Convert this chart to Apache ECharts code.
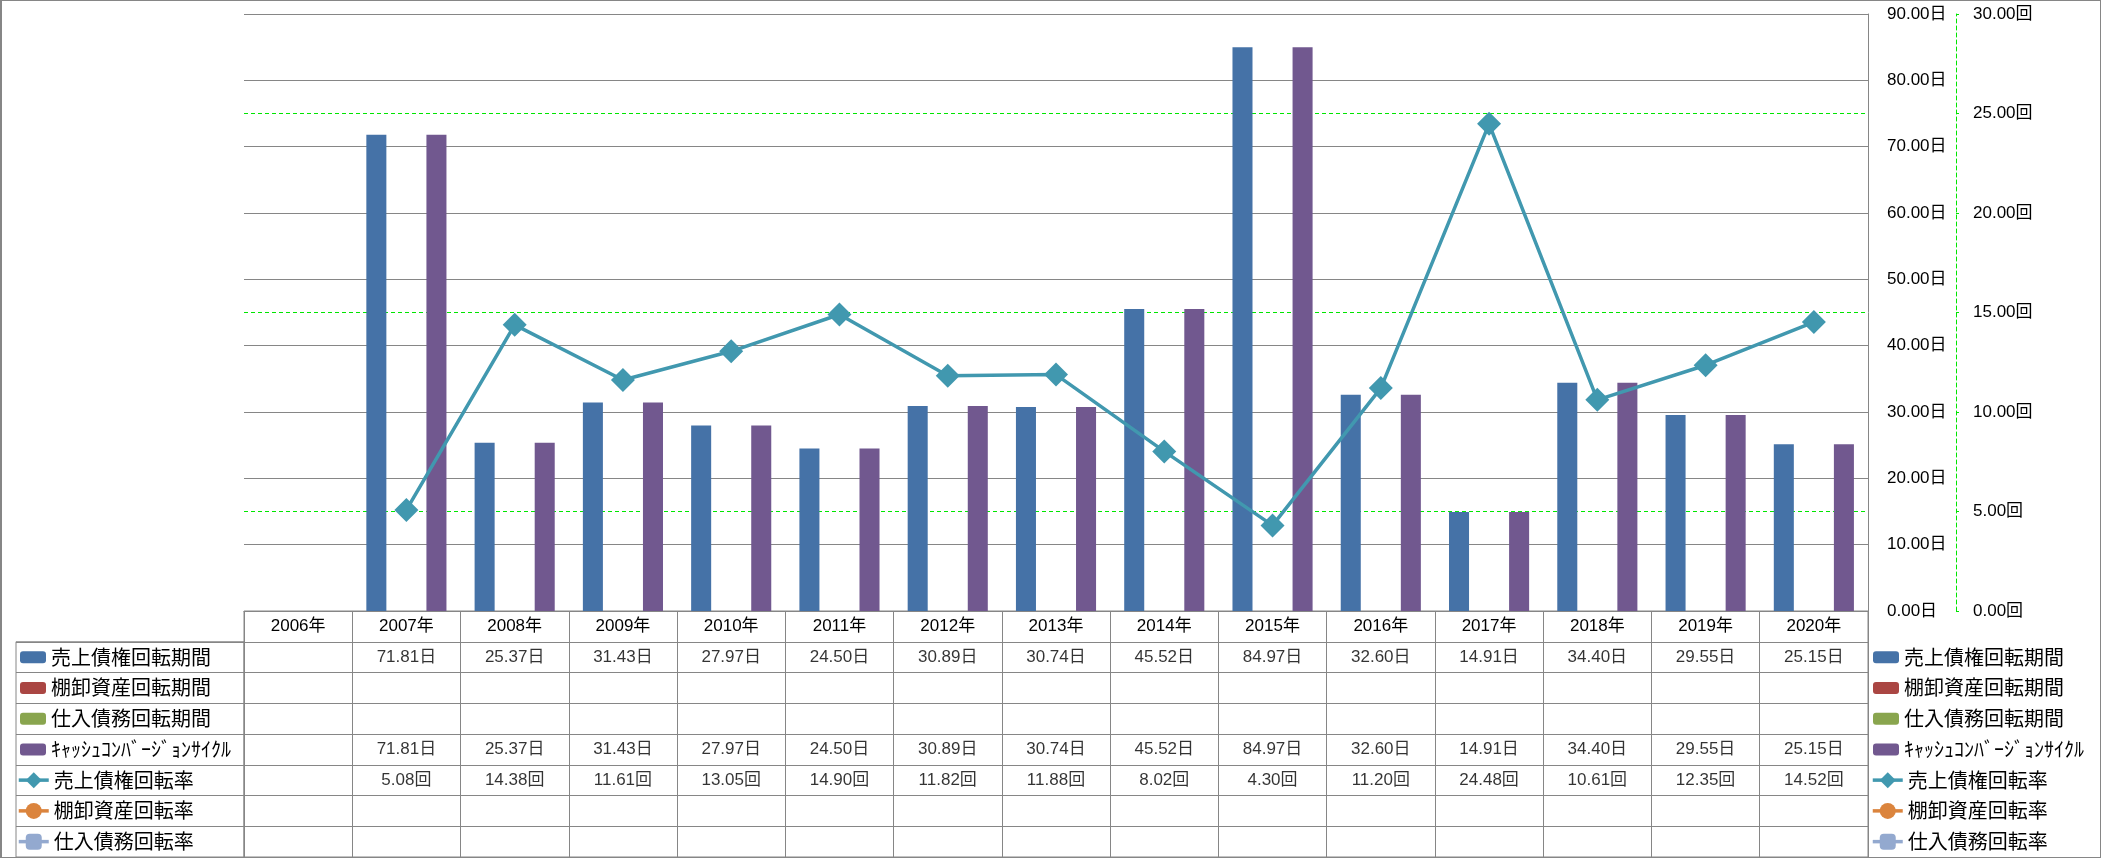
<!DOCTYPE html>
<html>
<head>
<meta charset="utf-8">
<title>売上債権回転期間・回転率</title>
<script src="https://cdn.jsdelivr.net/npm/echarts@6/dist/echarts.min.js"></script>
<style>
html, body { margin: 0; padding: 0; background: #fff; }
#chart { position: absolute; left: 0; top: 0; width: 2101px; height: 858px; }
#frame { position: absolute; left: 0; top: 0; width: 2101px; height: 858px; box-sizing: border-box; border: 1px solid #868686; border-left-width: 2px; pointer-events: none; }
</style>
</head>
<body>
<div id="chart"></div>
<div id="frame"></div>
<script>
// data
const years = ["2006年", "2007年", "2008年", "2009年", "2010年", "2011年", "2012年", "2013年",
  "2014年", "2015年", "2016年", "2017年", "2018年", "2019年", "2020年"];
const barNames = ["売上債権回転期間", "棚卸資産回転期間", "仕入債務回転期間", "ｷｬｯｼｭｺﾝﾊﾞｰｼﾞｮﾝｻｲｸﾙ"];
const lineNames = ["売上債権回転率", "棚卸資産回転率", "仕入債務回転率"];

const receivableDays = [null, 71.81, 25.37, 31.43, 27.97, 24.50, 30.89, 30.74, 45.52, 84.97, 32.60, 14.91, 34.40, 29.55, 25.15];
const inventoryDays = [];
const payableDays = [];
const cccDays = [null, 71.81, 25.37, 31.43, 27.97, 24.50, 30.89, 30.74, 45.52, 84.97, 32.60, 14.91, 34.40, 29.55, 25.15];
const receivableTurnover = [null, 5.08, 14.38, 11.61, 13.05, 14.90, 11.82, 11.88, 8.02, 4.30, 11.20, 24.48, 10.61, 12.35, 14.52];
const inventoryTurnover = [];
const payableTurnover = [];

const dayAxis = { min: 0, max: 90, interval: 10, unit: "日" };
const turnAxis = { min: 0, max: 30, interval: 5, unit: "回" };

// layout
const GRAY = "#868686";
const GREEN = "#00e600";
const NUM_FONT = "'Liberation Sans', 'Noto Sans CJK JP', sans-serif";
const JP_FONT = "'Noto Sans CJK JP', sans-serif";
const W = 2101, H = 858;
const plotLeft = 244, plotRight = 1868, plotTop = 14, axisY = 611, tableBottom = 857;
const rowH = (tableBottom - axisY) / 8;

// table cells
const tableRows = [
  { values: receivableDays, unit: "日" },
  { values: inventoryDays, unit: "日" },
  { values: payableDays, unit: "日" },
  { values: cccDays, unit: "日" },
  { values: receivableTurnover, unit: "回" },
  { values: inventoryTurnover, unit: "回" },
  { values: payableTurnover, unit: "回" }
];
const rowKeys = ["header"].concat(barNames, lineNames);
const cells = [];
tableRows.forEach(function(row, r) {
  row.values.forEach(function(v, c) {
    if (v != null) cells.push([c, r + 1, v, row.unit]);
  });
});

function legendBlock(names, left, firstRow, iconW, iconH) {
  return {
    orient: "vertical",
    left: left,
    top: axisY + rowH * firstRow + rowH / 2 - 10,
    padding: 0,
    itemGap: rowH - 20,
    itemWidth: iconW,
    itemHeight: iconH,
    selectedMode: false,
    data: names,
    lineStyle: { width: 3.5 },
    textStyle: { fontFamily: JP_FONT, fontSize: 20, lineHeight: 20, color: "#000" }
  };
}

const numLabel = { fontFamily: NUM_FONT, fontSize: 17, color: "#000" };

function barSeries(name, data, color) {
  return {
    name: name, type: "bar", xAxisIndex: 0, yAxisIndex: 0,
    data: data, barGap: "0%", barCategoryGap: "26%",
    itemStyle: { color: color }
  };
}
function lineSeries(name, data, color, symbol, size) {
  return {
    name: name, type: "line", xAxisIndex: 0, yAxisIndex: 1,
    data: data, symbol: symbol, symbolSize: size, z: 3,
    lineStyle: { width: 3.5, color: color },
    itemStyle: { color: color }
  };
}

const chart = echarts.init(document.getElementById("chart"), null, { renderer: "canvas" });
chart.setOption({
  animation: false,
  backgroundColor: "#fff",
  grid: [
    { left: plotLeft, right: W - plotRight, top: plotTop, bottom: H - axisY, outerBoundsMode: "none", containLabel: false },
    { left: plotLeft, right: W - plotRight, top: axisY, bottom: H - tableBottom, outerBoundsMode: "none",
      show: true, borderColor: GRAY, borderWidth: 1 },
    { left: 16, width: plotLeft - 16, top: axisY + rowH, bottom: H - tableBottom, outerBoundsMode: "none",
      show: true, borderColor: GRAY, borderWidth: 1 }
  ],
  legend: [
    legendBlock(barNames, 20, 1, 26, 12),
    legendBlock(lineNames, 17, 5, 30, 20),
    legendBlock(barNames, 1873, 1, 26, 12),
    legendBlock(lineNames, 1871, 5, 30, 20)
  ],
  xAxis: [
    {
      gridIndex: 0, type: "category", data: years, boundaryGap: true,
      axisLine: { lineStyle: { color: GRAY, width: 1 } },
      axisTick: { show: false },
      axisLabel: Object.assign({ interval: 0, margin: 7 }, numLabel),
      splitLine: { show: false }
    },
    {
      gridIndex: 1, type: "category", data: years, boundaryGap: true,
      axisLine: { show: false }, axisTick: { show: false }, axisLabel: { show: false },
      splitLine: { show: true, interval: 0, lineStyle: { color: GRAY, width: 1 } }
    },
    { gridIndex: 2, type: "value", show: false }
  ],
  yAxis: [
    {
      gridIndex: 0, type: "value", position: "right", z: 1,
      min: dayAxis.min, max: dayAxis.max, interval: dayAxis.interval,
      axisLine: { show: true, lineStyle: { color: GRAY, width: 1 } },
      axisTick: { show: false },
      splitLine: { show: true, lineStyle: { color: GRAY, width: 1 } },
      axisLabel: Object.assign({
        align: "left", margin: 19,
        formatter: function(v) { return v.toFixed(2) + dayAxis.unit; }
      }, numLabel)
    },
    {
      gridIndex: 0, type: "value", position: "right", offset: 88, z: 0,
      min: turnAxis.min, max: turnAxis.max, interval: turnAxis.interval,
      axisLine: { show: true, lineStyle: { color: GREEN, width: 1, type: [4, 3] } },
      axisTick: { show: true, length: 3, lineStyle: { color: GREEN, width: 1 } },
      splitLine: { show: true, lineStyle: { color: GREEN, width: 1, type: [4, 3] } },
      axisLabel: Object.assign({
        align: "left", margin: 17,
        formatter: function(v) { return v.toFixed(2) + turnAxis.unit; }
      }, numLabel)
    },
    {
      gridIndex: 1, type: "category", data: rowKeys, inverse: true, boundaryGap: true,
      axisLine: { show: false }, axisTick: { show: false }, axisLabel: { show: false },
      splitLine: { show: true, interval: 0, lineStyle: { color: GRAY, width: 1 } }
    },
    {
      gridIndex: 2, type: "category", data: rowKeys.slice(1), inverse: true, boundaryGap: true,
      axisLine: { show: false }, axisTick: { show: false }, axisLabel: { show: false },
      splitLine: { show: true, interval: 0, lineStyle: { color: GRAY, width: 1 } }
    }
  ],
  series: [
    barSeries(barNames[0], receivableDays, "#4572A7"),
    barSeries(barNames[1], inventoryDays, "#AA4643"),
    barSeries(barNames[2], payableDays, "#89A54E"),
    barSeries(barNames[3], cccDays, "#71588F"),
    lineSeries(lineNames[0], receivableTurnover, "#4198AF", "diamond", 24),
    lineSeries(lineNames[1], inventoryTurnover, "#DB843D", "circle", 14),
    lineSeries(lineNames[2], payableTurnover, "#93A9CF", "roundRect", 14),
    {
      type: "scatter", xAxisIndex: 1, yAxisIndex: 2, data: cells,
      symbolSize: 1, silent: true,
      itemStyle: { color: "rgba(0,0,0,0)" },
      label: Object.assign({
        show: true, position: "inside",
        formatter: function(p) { return p.value[2].toFixed(2) + p.value[3]; }
      }, numLabel)
    }
  ]
});
</script>
</body>
</html>
